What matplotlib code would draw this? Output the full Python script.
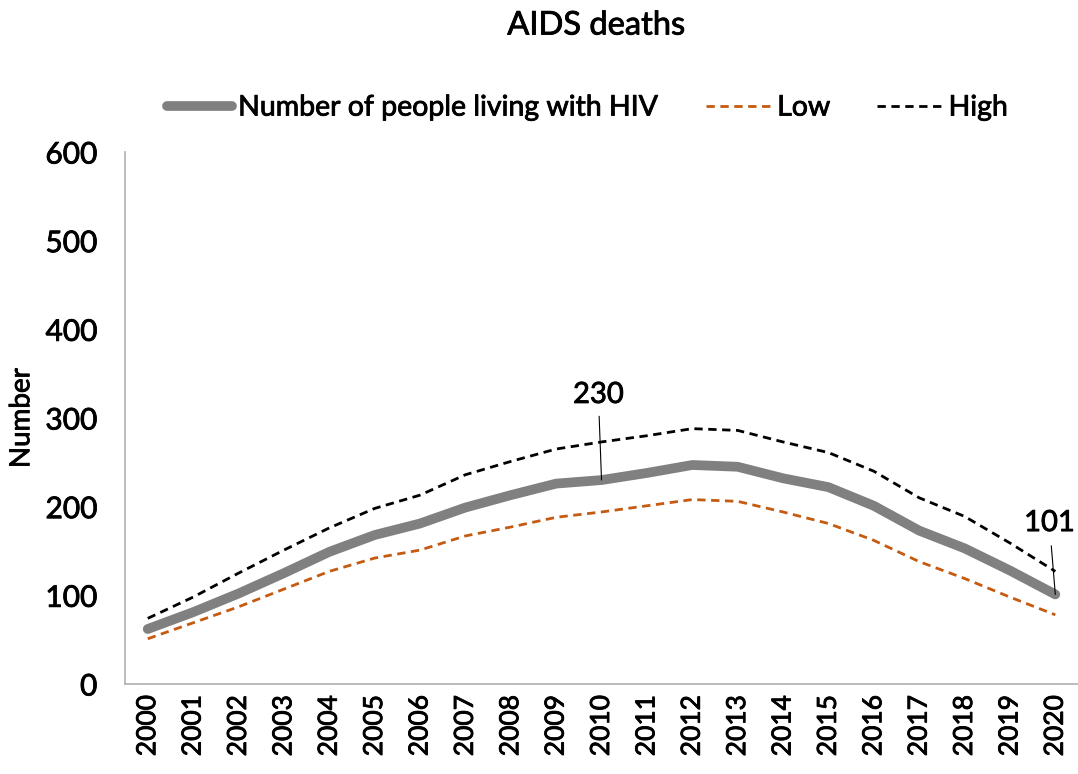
import matplotlib.pyplot as plt
import matplotlib.patheffects as pe

plt.rcParams['font.family'] = ['Lato', 'DejaVu Sans']

years = [str(y) for y in range(2000, 2021)]
people_hiv = [62, 81, 102, 125, 149, 168, 181, 199, 213, 226, 230, 238, 247, 245,
              232, 222, 201, 173, 153, 128, 101]
low = [51, 69, 87, 107, 127, 142, 151, 167, 177, 188, 194, 201, 208, 206,
       194, 181, 162, 138, 119, 98, 78]
high = [74, 98, 125, 151, 176, 198, 213, 236, 251, 265, 273, 280, 288, 286,
        273, 261, 240, 210, 189, 159, 127]

# slightly heavier text than Lato Regular
heavy = [pe.withStroke(linewidth=0.6, foreground='black')]

fig = plt.figure(figsize=(10.78, 7.74), dpi=100)
ax = fig.add_axes([0.116, 0.1163, 0.884, 0.6873])

x = range(len(years))
ax.plot(x, people_hiv, color='#808080', lw=7, solid_capstyle='round',
        label='Number of people living with HIV', zorder=3)
ax.plot(x, low, color='#C55A11', lw=2, ls=(0, (3, 2)), label='Low', zorder=2)
ax.plot(x, high, color='black', lw=2, ls=(0, (3, 2)), label='High', zorder=2)

ax.set_xlim(-0.5, len(years) - 0.5)
ax.set_ylim(0, 600)
ax.set_yticks(range(0, 601, 100))
ax.set_xticks(list(x))
ax.set_xticklabels(years, rotation=90, fontsize=19)
ax.tick_params(axis='y', labelsize=21.5, length=0, pad=20)
ax.tick_params(axis='x', length=0, pad=8)

for side in ['top', 'right']:
    ax.spines[side].set_visible(False)
for side in ['left', 'bottom']:
    ax.spines[side].set_color('#B0B0B0')
    ax.spines[side].set_linewidth(1.2)

ax.set_ylabel('Number', fontsize=20, labelpad=8)
fig.text(0.553, 0.967, 'AIDS deaths', ha='center', va='center', fontsize=23.5,
         path_effects=heavy)

# value labels with leader lines
i10 = years.index('2010')
ax.annotate(str(people_hiv[i10]), xy=(i10, people_hiv[i10]), xytext=(i10 - 0.07, 326),
            ha='center', va='center', fontsize=21, path_effects=heavy,
            arrowprops=dict(arrowstyle='-', color='black', lw=0.8, shrinkA=4, shrinkB=0))
i20 = years.index('2020')
ax.annotate(str(people_hiv[i20]), xy=(i20, people_hiv[i20]), xytext=(i20 - 0.13, 181.5),
            ha='center', va='center', fontsize=21, path_effects=heavy,
            arrowprops=dict(arrowstyle='-', color='black', lw=0.8, shrinkA=5, shrinkB=0))

leg = fig.legend(loc='center', bbox_to_anchor=(0.545, 0.861), ncol=3, frameon=False,
                 fontsize=20.5, handlelength=2.3, handletextpad=0.2, columnspacing=1.65)
for t in leg.get_texts():
    t.set_path_effects(heavy)
for t in ax.get_xticklabels() + ax.get_yticklabels() + [ax.yaxis.label]:
    t.set_path_effects(heavy)

fig.savefig('out.png', dpi=100)
